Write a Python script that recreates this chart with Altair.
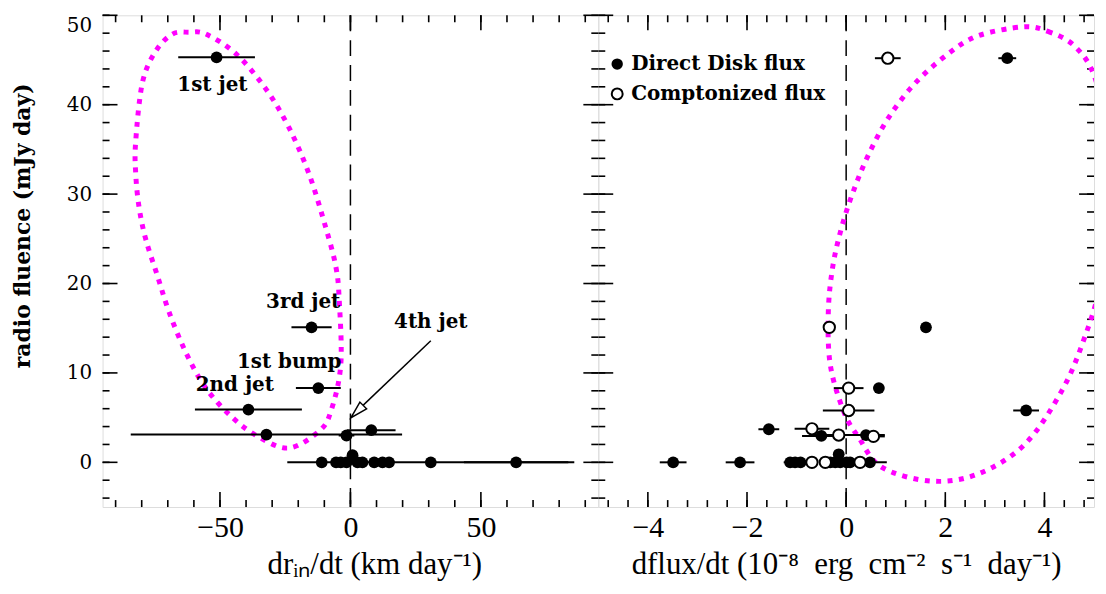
import altair as alt
import pandas as pd

# ---------------- data ----------------
# Left panel: d r_in/dt (km/day) vs radio fluence (mJy day)
l_x = [-51.3, -14.9, -12.3, -39.1, -32.2, -1.5, 8.0, -11.0, -5.5, -3.7, -1.5, 0.8, 2.7, 4.6, 9.1, 12.3, 14.8, 30.8, 63.5]
l_y = [45.3, 15.1, 8.3, 5.9, 3.1, 3.0, 3.6, 0.0, 0.0, 0.0, 0.0, 0.8, 0.0, 0.0, 0.0, 0.0, 0.0, 0.0, 0.0]
l_err = [14.7, 7.7, 8.6, 20.5, 52.0, 3.0, 9.3, 2.0, 2.0, 2.0, 2.0, 2.0, 2.0, 2.0, 2.0, 2.0, 2.0, 55.0, 20.0]

# Right panel: direct disk flux derivative (filled)
d_x = [3.25, 1.61, 0.66, 3.63, -1.56, -0.50, 0.40, -3.49, -2.14, -1.13, -1.03, -0.92, -0.32, -0.22, -0.12, -0.15, 0.01, 0.08, 0.48]
d_y = [45.2, 15.1, 8.3, 5.8, 3.7, 2.95, 3.05, 0.0, 0.0, 0.0, 0.0, 0.0, 0.0, 0.0, 0.0, 0.9, 0.0, 0.0, 0.0]
d_err = [0.18, 0.05, 0.10, 0.26, 0.21, 0.39, 0.38, 0.27, 0.29, 0.13, 0.10, 0.10, 0.10, 0.10, 0.10, 0.10, 0.10, 0.10, 0.34]

# Right panel: comptonized flux derivative (open)
c_x = [0.84, -0.34, 0.05, 0.05, -0.69, -0.15, 0.55, -0.69, -0.42, 0.28]
c_y = [45.2, 15.1, 8.3, 5.8, 3.75, 3.05, 2.9, 0.0, 0.0, 0.0]
c_err = [0.26, 0.05, 0.30, 0.52, 0.35, 0.50, 0.23, 0.10, 0.10, 0.10]

# hand-drawn magenta outlines
le_x = [-61.8, -55.4, -43.9, -32.5, -23.5, -15.8, -9.5, -5.6, -4.3, -3.7, -7.5, -12.0, -23.5, -34.9, -45.2,
        -55.4, -63.1, -69.5, -73.9, -78.4, -81.0, -82.3, -82.3, -79.7, -74.6, -68.2]
le_y = [48.1, 47.9, 45.7, 41.8, 37.4, 32.2, 26.3, 21.9, 18.2, 10.9, 5.7, 3.5, 1.6, 2.8, 5.0,
        8.3, 12.3, 16.8, 20.8, 24.9, 28.5, 32.3, 35.9, 42.5, 46.0, 47.9]
re_x = [3.56, 4.07, 4.6, 5.0, 5.25, 5.3, 5.14, 4.8, 4.34, 3.6, 2.66, 1.72, 0.72, 0.25, -0.05, -0.32,
        -0.36, -0.27, -0.09, 0.15, 0.45, 0.85, 1.39, 2.06, 2.66]
re_y = [48.7, 48.2, 46.6, 43.3, 37.0, 30.0, 20.4, 13.8, 7.9, 2.0, -1.3, -2.1, -0.55, 2.8, 5.7, 10.9,
        16.8, 21.9, 26.3, 30.4, 34.4, 38.5, 42.4, 45.7, 47.7]

# annotations (left panel)
ann_text = ["1st jet", "3rd jet", "1st bump", "2nd jet", "4th jet"]
ann_x = [-52.9, -18.1, -23.5, -44.3, 30.8]
ann_y = [42.2, 17.9, 11.2, 8.6, 15.7]
arrow_from = [30.8, 13.6]
arrow_to = [0.6, 5.2]
arrow_head = [2.57, 5.68]

legend_labels = ["Direct Disk flux", "Comptonized flux"]

# axis ticks
l_xmajor = [-50, 0, 50]
l_xminor = [-90, -80, -70, -60, -50, -40, -30, -20, -10, 0, 10, 20, 30, 40, 50, 60, 70, 80, 90]
r_xmajor = [-4, -2, 0, 2, 4]
r_xminor = [-4.8, -4.4, -4.0, -3.6, -3.2, -2.8, -2.4, -2.0, -1.6, -1.2, -0.8, -0.4, 0.0,
            0.4, 0.8, 1.2, 1.6, 2.0, 2.4, 2.8, 3.2, 3.6, 4.0, 4.4, 4.8]
ymajor = [0, 10, 20, 30, 40, 50]
yminor = [-4, -2, 0, 2, 4, 6, 8, 10, 12, 14, 16, 18, 20, 22, 24, 26, 28, 30, 32, 34, 36, 38, 40,
          42, 44, 46, 48, 50]

W, H = 498, 494
MAG = "#ff00ff"
YFONT = "DejaVu Serif"
XFONT = "Liberation Serif"
NB = "\u00a0"

yscale = alt.Scale(domain=[-5, 50], nice=False, zero=False)


def xaxis(title, values, title_x=None):
    kw = {}
    if title_x is not None:
        kw["titleX"] = title_x
    return alt.Axis(values=values, title=title, ticks=False, domain=False, grid=False,
                    labelFont=XFONT, labelFontSize=30, labelColor="black", labelPadding=6,
                    titleFont=XFONT, titleFontSize=31, titleFontWeight="normal", titleColor="black",
                    titlePadding=7, **kw)


Y_LEFT = alt.Axis(values=ymajor, title="radio fluence (mJy day)", ticks=False, domain=False, grid=False,
                  labelFont=YFONT, labelFontSize=20, labelColor="black", labelPadding=11, labelFlush=True,
                  titleFont=YFONT, titleFontSize=22, titleFontWeight="bold", titleColor="black",
                  titleX=-68, titleY=211)


def tick_layers(xscale, xax, yax, xmaj, xmin):
    out = []
    for vals, ln in ((xmaj, 15), (xmin, 7)):
        df = pd.DataFrame({"v": vals})
        base = alt.Chart(df).mark_rule(color="black", strokeWidth=1.6)
        out.append(base.encode(x=alt.X("v:Q", scale=xscale, axis=xax), y=alt.value(H), y2=alt.value(H - ln)))
        out.append(base.encode(x=alt.X("v:Q", scale=xscale, axis=xax), y=alt.value(0), y2=alt.value(ln)))
    for vals, ln in ((ymajor, 15), (yminor, 7)):
        df = pd.DataFrame({"v": vals})
        base = alt.Chart(df).mark_rule(color="black", strokeWidth=1.6)
        out.append(base.encode(y=alt.Y("v:Q", scale=yscale, axis=yax), x=alt.value(0), x2=alt.value(ln)))
        out.append(base.encode(y=alt.Y("v:Q", scale=yscale, axis=yax), x=alt.value(W), x2=alt.value(W - ln)))
    return out


# ---------------- left panel ----------------
lscale = alt.Scale(domain=[-95, 95], nice=False, zero=False)
LX = xaxis("drᵢₙ/dt (km day⁻¹)", l_xmajor, title_x=273)
ldf = pd.DataFrame({"x": l_x, "y": l_y, "err": l_err})
ldf["lo"] = ldf["x"] - ldf["err"]
ldf["hi"] = ldf["x"] + ldf["err"]

l_zero = alt.Chart(pd.DataFrame({"z": [0]})).mark_rule(color="black", strokeWidth=1.5, strokeDash=[16, 9]).encode(
    x=alt.X("z:Q", scale=lscale, axis=LX))
l_ell = alt.Chart(pd.DataFrame({"x": le_x, "y": le_y, "i": list(range(len(le_x)))})).mark_line(
    color=MAG, strokeWidth=5, strokeDash=[5, 6.5], strokeCap="butt", interpolate="cardinal-closed").encode(
    x=alt.X("x:Q", scale=lscale, axis=LX), y=alt.Y("y:Q", scale=yscale, axis=Y_LEFT), order="i:Q")
l_err_bars = alt.Chart(ldf).mark_rule(color="black", strokeWidth=2).encode(
    x=alt.X("lo:Q", scale=lscale, axis=LX), x2="hi:Q", y=alt.Y("y:Q", scale=yscale, axis=Y_LEFT))
l_pts = alt.Chart(ldf).mark_circle(color="black", size=140, opacity=1).encode(
    x=alt.X("x:Q", scale=lscale, axis=LX), y=alt.Y("y:Q", scale=yscale, axis=Y_LEFT))
adf = pd.DataFrame({"t": ann_text, "x": ann_x, "y": ann_y})
l_ann = alt.Chart(adf).mark_text(font=YFONT, fontSize=20, fontWeight="bold", color="black").encode(
    x=alt.X("x:Q", scale=lscale, axis=LX), y=alt.Y("y:Q", scale=yscale, axis=Y_LEFT), text="t:N")
arr_df = pd.DataFrame({"x": [arrow_from[0]], "y": [arrow_from[1]], "x2": [arrow_to[0]], "y2": [arrow_to[1]]})
l_arrow = alt.Chart(arr_df).mark_rule(color="black", strokeWidth=1.5).encode(
    x=alt.X("x:Q", scale=lscale, axis=LX), y=alt.Y("y:Q", scale=yscale, axis=Y_LEFT), x2="x2:Q", y2="y2:Q")
head_df = pd.DataFrame({"x": [arrow_head[0]], "y": [arrow_head[1]]})
l_head = alt.Chart(head_df).mark_point(shape="M0,-1L0.55,1L-0.55,1Z", filled=True, fill="white", stroke="black",
                                       strokeWidth=1.5, size=300, angle=225, opacity=1).encode(
    x=alt.X("x:Q", scale=lscale, axis=LX), y=alt.Y("y:Q", scale=yscale, axis=Y_LEFT))

left = alt.layer(l_zero, *tick_layers(lscale, LX, Y_LEFT, l_xmajor, l_xminor), l_ell, l_err_bars, l_pts, l_ann,
                 l_arrow, l_head).properties(width=W, height=H)

# ---------------- right panel ----------------
rscale = alt.Scale(domain=[-5, 5], nice=False, zero=False)
RX = xaxis("dflux/dt (10⁻⁸" + NB + " erg" + NB + " cm⁻²" + NB + " s⁻¹" + NB + " day⁻¹)", r_xmajor)
ddf = pd.DataFrame({"x": d_x, "y": d_y, "err": d_err})
ddf["lo"] = ddf["x"] - ddf["err"]
ddf["hi"] = ddf["x"] + ddf["err"]
cdf = pd.DataFrame({"x": c_x, "y": c_y, "err": c_err})
cdf["lo"] = cdf["x"] - cdf["err"]
cdf["hi"] = cdf["x"] + cdf["err"]

r_zero = alt.Chart(pd.DataFrame({"z": [0]})).mark_rule(color="black", strokeWidth=1.5, strokeDash=[16, 9]).encode(
    x=alt.X("z:Q", scale=rscale, axis=RX))
r_ell = alt.Chart(pd.DataFrame({"x": re_x, "y": re_y, "i": list(range(len(re_x)))})).mark_line(
    color=MAG, strokeWidth=5, strokeDash=[5, 6.5], strokeCap="butt", interpolate="cardinal-closed",
    clip=True).encode(
    x=alt.X("x:Q", scale=rscale, axis=RX), y=alt.Y("y:Q", scale=yscale, axis=None), order="i:Q")
r_derr = alt.Chart(ddf).mark_rule(color="black", strokeWidth=2).encode(
    x=alt.X("lo:Q", scale=rscale, axis=RX), x2="hi:Q", y=alt.Y("y:Q", scale=yscale, axis=None))
r_cerr = alt.Chart(cdf).mark_rule(color="black", strokeWidth=2).encode(
    x=alt.X("lo:Q", scale=rscale, axis=RX), x2="hi:Q", y=alt.Y("y:Q", scale=yscale, axis=None))
r_dpts = alt.Chart(ddf).mark_circle(color="black", size=140, opacity=1).encode(
    x=alt.X("x:Q", scale=rscale, axis=RX), y=alt.Y("y:Q", scale=yscale, axis=None))
r_cpts = alt.Chart(cdf).mark_point(shape="circle", filled=True, fill="white", stroke="black", strokeWidth=2,
                                   size=130, opacity=1).encode(
    x=alt.X("x:Q", scale=rscale, axis=RX), y=alt.Y("y:Q", scale=yscale, axis=None))

leg_d_pt = alt.Chart(pd.DataFrame({"k": [0]})).mark_circle(color="black", size=130, opacity=1).encode(
    x=alt.value(19), y=alt.value(49))
leg_c_pt = alt.Chart(pd.DataFrame({"k": [0]})).mark_point(shape="circle", filled=True, fill="white", stroke="black",
                                                           strokeWidth=2, size=120, opacity=1).encode(
    x=alt.value(19), y=alt.value(79))
leg_d_tx = alt.Chart(pd.DataFrame({"k": [0]})).mark_text(font=YFONT, fontSize=20, fontWeight="bold", color="black",
                                                          align="left", baseline="middle").encode(
    x=alt.value(33), y=alt.value(49), text=alt.value(legend_labels[0]))
leg_c_tx = alt.Chart(pd.DataFrame({"k": [0]})).mark_text(font=YFONT, fontSize=20, fontWeight="bold", color="black",
                                                          align="left", baseline="middle").encode(
    x=alt.value(33), y=alt.value(79), text=alt.value(legend_labels[1]))

right = alt.layer(r_zero, *tick_layers(rscale, RX, None, r_xmajor, r_xminor), r_ell, r_derr, r_cerr, r_dpts, r_cpts,
                  leg_d_pt, leg_c_pt, leg_d_tx, leg_c_tx).properties(width=W, height=H)

chart = alt.hconcat(left, right, spacing=0, bounds="flush").properties(
    padding={"left": 3, "top": 4, "right": 2, "bottom": 2}
).configure_view(stroke="black", strokeWidth=2).configure(background="white")

chart.save("out.html", embed_options={"renderer": "svg", "actions": False})
